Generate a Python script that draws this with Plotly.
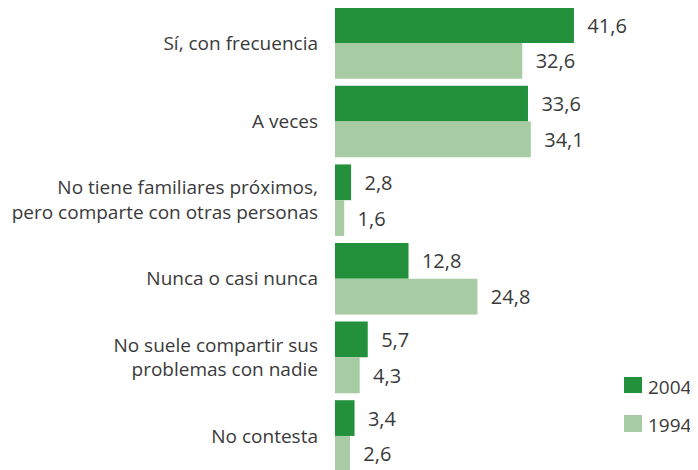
import plotly.graph_objects as go

categories = [
    "Sí, con frecuencia",
    "A veces",
    "No tiene familiares próximos,<br>pero comparte con otras personas",
    "Nunca o casi nunca",
    "No suele compartir sus<br>problemas con nadie",
    "No contesta",
]
values_2004 = [41.6, 33.6, 2.8, 12.8, 5.7, 3.4]
values_1994 = [32.6, 34.1, 1.6, 24.8, 4.3, 2.6]
series_names = ["2004", "1994"]

color_2004 = "#23913b"
color_1994 = "#a7cba3"
font_family = "Open Sans, Noto Sans, sans-serif"
text_color = "#3a3a3a"

fig = go.Figure()
for name, vals, col in [(series_names[0], values_2004, color_2004),
                        (series_names[1], values_1994, color_1994)]:
    fig.add_trace(go.Bar(
        y=categories, x=vals, name=name, orientation="h",
        marker=dict(color=col, line=dict(width=0)),
        text=[f"\u00a0\u00a0{v:.1f}".replace(".", ",") for v in vals],
        textposition="outside", cliponaxis=False,
        textfont=dict(family=font_family, size=20, color=text_color),
        showlegend=False,
    ))

# manual legend (larger swatches than plotly's built-in legend)
legend_items = [
    (series_names[0], color_2004, 0.2013, 0.1667, 0.1786),
    (series_names[1], color_1994, 0.1190, 0.0823, 0.0974),
]
for name, col, y0, y1, yt in legend_items:
    fig.add_shape(type="rect", xref="paper", yref="paper",
                  x0=0.7961, x1=0.8457, y0=y1, y1=y0,
                  fillcolor=col, line=dict(width=0))
    fig.add_annotation(xref="paper", yref="paper", x=0.862, y=yt,
                       xanchor="left", yanchor="middle", showarrow=False,
                       borderpad=0, borderwidth=0,
                       text=name, font=dict(family=font_family, size=19, color=text_color))

fig.update_layout(
    width=690, height=462,
    margin=dict(l=327, r=0, t=0, b=0, autoexpand=False),
    paper_bgcolor="white", plot_bgcolor="white",
    barmode="group", bargap=0.09, bargroupgap=0,
    showlegend=False,
    font=dict(family=font_family, color=text_color),
)
fig.update_xaxes(range=[0, 63.2], visible=False, showgrid=False, zeroline=False)
fig.update_yaxes(range=[5.433, -0.445], showgrid=False, zeroline=False, showline=False,
                 ticks="", ticklabelstandoff=16, automargin=False,
                 tickfont=dict(family=font_family, size=19, color=text_color))

fig.write_html("out.html")
